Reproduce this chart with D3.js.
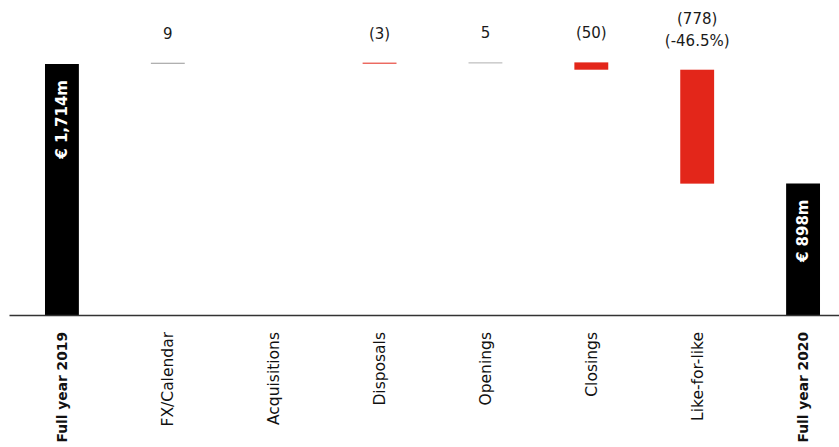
<!DOCTYPE html>
<html>
<head>
<meta charset="utf-8">
<script src="https://cdn.jsdelivr.net/npm/d3@7"></script>
<style>
  body { margin: 0; background: #fff; }
  svg { display: block; font-family: "DejaVu Sans", sans-serif; }
</style>
</head>
<body>
<div id="chart"></div>
<script>
// data
var categories = ["Full year 2019", "FX/Calendar", "Acquisitions", "Disposals", "Openings", "Closings", "Like-for-like", "Full year 2020"];
var totals = [1714, null, null, null, null, null, null, 898];
var changes = [null, 9, null, -3, 5, -50, -778, null];
var changeLabels = [[], ["9"], [], ["(3)"], ["5"], ["(50)"], ["(778)", "(-46.5%)"], []];
var totalLabels = ["€ 1,714m", "", "", "", "", "", "", "€ 898m"];

var width = 839, height = 447, baseY = 315;

// build waterfall segments
var running = 0;
var rows = categories.map(function (c, i) {
    var r = { cat: c, i: i };
    if (totals[i] != null) {
        r.type = "total"; r.y0 = 0; r.y1 = totals[i]; running = totals[i];
    } else if (changes[i] != null) {
        r.type = changes[i] >= 0 ? "up" : "down";
        r.y0 = running; r.y1 = running + changes[i]; running = r.y1;
    } else {
        r.type = "none"; r.y0 = running; r.y1 = running;
    }
    return r;
});

var svg = d3.select("#chart").append("svg")
    .attr("width", width)
    .attr("height", height);

// scales
var x = d3.scaleBand()
    .domain(categories)
    .range([9, 856])
    .paddingInner(0.68)
    .paddingOuter(0.34);

var y = d3.scaleLinear()
    .domain([0, 1714])
    .range([baseY, 64]);

var color = { total: "#000", up: "#b0b0b0", down: "#e3261a" };

// bars
svg.append("g").selectAll("rect")
    .data(rows.filter(function (d) { return d.type !== "none"; }))
    .enter().append("rect")
    .attr("x", function (d) { return x(d.cat); })
    .attr("width", x.bandwidth())
    .attr("y", function (d) { return y(Math.max(d.y0, d.y1)); })
    .attr("height", function (d) { return Math.max(1, Math.abs(y(d.y0) - y(d.y1))); })
    .attr("fill", function (d) { return color[d.type]; });

// change labels above the segments
var lab = svg.append("g").selectAll("text")
    .data(rows.filter(function (d) { return changeLabels[d.i].length; }))
    .enter().append("text")
    .attr("text-anchor", "middle")
    .attr("font-size", 15)
    .attr("fill", "#1a1a1a")
    .attr("x", function (d) { return x(d.cat) + x.bandwidth() / 2; })
    .attr("y", function (d) {
        var n = changeLabels[d.i].length;
        return y(Math.max(d.y0, d.y1)) - 24 - (n - 1) * 22;
    });
lab.selectAll("tspan")
    .data(function (d) { return changeLabels[d.i].map(function (t) { return { t: t, d: d }; }); })
    .enter().append("tspan")
    .attr("x", function (o) { return x(o.d.cat) + x.bandwidth() / 2; })
    .attr("dy", function (o, k) { return k ? 22 : 0; })
    .text(function (o) { return o.t; });

// value labels inside the total bars
svg.append("g").selectAll("text")
    .data(rows.filter(function (d) { return d.type === "total"; }))
    .enter().append("text")
    .attr("transform", function (d) {
        return "translate(" + (x(d.cat) + x.bandwidth() / 2) + "," + (y(d.y1) + 16) + ") rotate(-90)";
    })
    .attr("text-anchor", "end")
    .attr("dy", "0.35em")
    .attr("font-size", 15)
    .attr("font-weight", "bold")
    .attr("fill", "#fff")
    .text(function (d) { return totalLabels[d.i]; });

// x axis
var xAxis = svg.append("g")
    .attr("transform", "translate(0," + baseY + ")")
    .call(d3.axisBottom(x).tickSize(0));

xAxis.select(".domain")
    .attr("stroke", "#333")
    .attr("stroke-width", 1.5);

xAxis.selectAll("text")
    .attr("transform", "rotate(-90)")
    .attr("text-anchor", "end")
    .attr("x", -17)
    .attr("y", 0)
    .attr("dy", "0.35em")
    .attr("font-family", "DejaVu Sans, sans-serif")
    .attr("font-size", function (d, i) { return totals[i] != null ? 13.8 : 15.5; })
    .attr("fill", "#111")
    .attr("font-weight", function (d, i) { return totals[i] != null ? "bold" : "normal"; });
</script>
</body>
</html>
